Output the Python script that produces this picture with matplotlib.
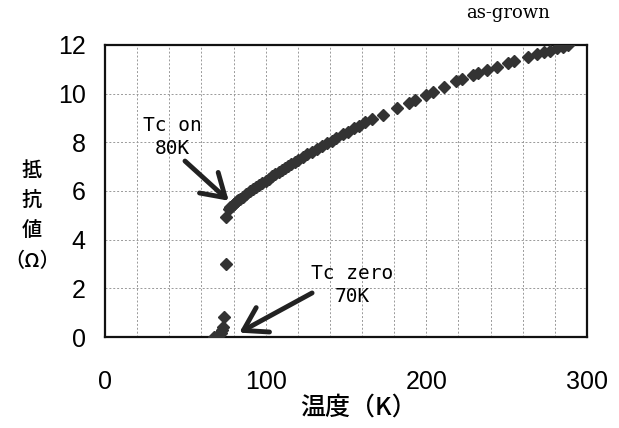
import matplotlib
matplotlib.use("Agg")
import matplotlib.pyplot as plt
from matplotlib.ticker import MultipleLocator

# transition region
t_sc = [68, 69, 70, 71, 72, 73, 73.5, 74, 75.3, 75.3]
r_sc = [0.0, 0.0, 0.02, 0.08, 0.15, 0.3, 0.42, 0.82, 3.0, 4.92]

# normal state
t_n = [77, 78, 79, 80, 81, 82, 83, 84, 86, 88, 90, 92, 94, 96, 98, 100,
       102, 104, 106, 108, 110, 112, 114, 116, 118, 120, 123, 126, 129, 132,
       135, 138, 141, 144, 148, 151, 155, 158, 162, 166, 173, 182, 189, 193,
       199.5, 204, 211, 218.5, 222, 229, 232, 238, 244, 251, 254.5, 263, 269,
       273, 277, 281.5, 285, 288]
r_n = [5.25, 5.33, 5.40, 5.47, 5.52, 5.57, 5.62, 5.67, 5.77, 5.88, 5.98, 6.07,
       6.16, 6.25, 6.33, 6.42, 6.51, 6.60, 6.69, 6.78, 6.86, 6.95, 7.03, 7.12,
       7.20, 7.29, 7.40, 7.51, 7.62, 7.73, 7.84, 7.96, 8.07, 8.18, 8.33, 8.44,
       8.58, 8.69, 8.83, 8.96, 9.12, 9.40, 9.61, 9.74, 9.95, 10.08, 10.29,
       10.50, 10.60, 10.77, 10.86, 10.98, 11.11, 11.27, 11.34, 11.50, 11.63,
       11.70, 11.77, 11.86, 11.93, 12.00]

num_font = ['Liberation Sans', 'DejaVu Sans']
jp_font = ['Noto Sans CJK JP', 'DejaVu Sans']
mono_font = ['DejaVu Sans Mono']

fig = plt.figure(figsize=(6.19, 4.28), dpi=100)
ax = fig.add_axes([0.1696, 0.2126, 0.7787, 0.6823])

col = '#333333'
ax.plot(t_sc + t_n, r_sc + r_n, 'D', ms=6.5, color=col, mec=col, zorder=3)

ax.set_xlim(0, 300)
ax.set_ylim(0, 12)
ax.xaxis.set_major_locator(MultipleLocator(100))
ax.xaxis.set_minor_locator(MultipleLocator(20))
ax.yaxis.set_major_locator(MultipleLocator(2))
ax.grid(True, which='both', color='#999999', lw=0.7, ls=(0, (2, 2)))
ax.tick_params(which='both', length=0)
ax.tick_params(axis='x', pad=24)
ax.tick_params(axis='y', pad=14)
for lab in ax.get_xticklabels() + ax.get_yticklabels():
    lab.set_family(num_font)
    lab.set_fontsize(18)
for s in ax.spines.values():
    s.set_linewidth(1.6)
    s.set_color('#111111')

# annotations
ax.text(41.7, 8.22, 'Tc on\n80K', family=mono_font, fontsize=14,
        ha='center', va='center', linespacing=1.25)
ax.text(153.8, 2.14, 'Tc zero\n70K', family=mono_font, fontsize=14,
        ha='center', va='center', linespacing=1.25)
arrow = dict(arrowstyle='->,head_length=0.8,head_width=0.5', lw=3.5,
             color='#222222', mutation_scale=20, shrinkA=0, shrinkB=0)
ax.annotate('', xy=(77.0, 5.6), xytext=(49.8, 7.23), arrowprops=arrow)
ax.annotate('', xy=(83.6, 0.18), xytext=(128.9, 1.81), arrowprops=arrow)

fig.text(508 / 619, 1 - 13 / 428, 'as-grown', family=['DejaVu Serif'],
         fontsize=13, ha='center', va='center')
fig.text(32 / 619, 1 - 216 / 428, '抵\n抗\n値\n（Ω）', family=jp_font,
         fontsize=14.5, ha='center', va='center', linespacing=1.75,
         weight='medium')
fig.text(358 / 619, 1 - 408 / 428, '温度（K）', family=jp_font,
         fontsize=18, ha='center', va='center', weight='medium')

fig.savefig('out.png', dpi=100)
